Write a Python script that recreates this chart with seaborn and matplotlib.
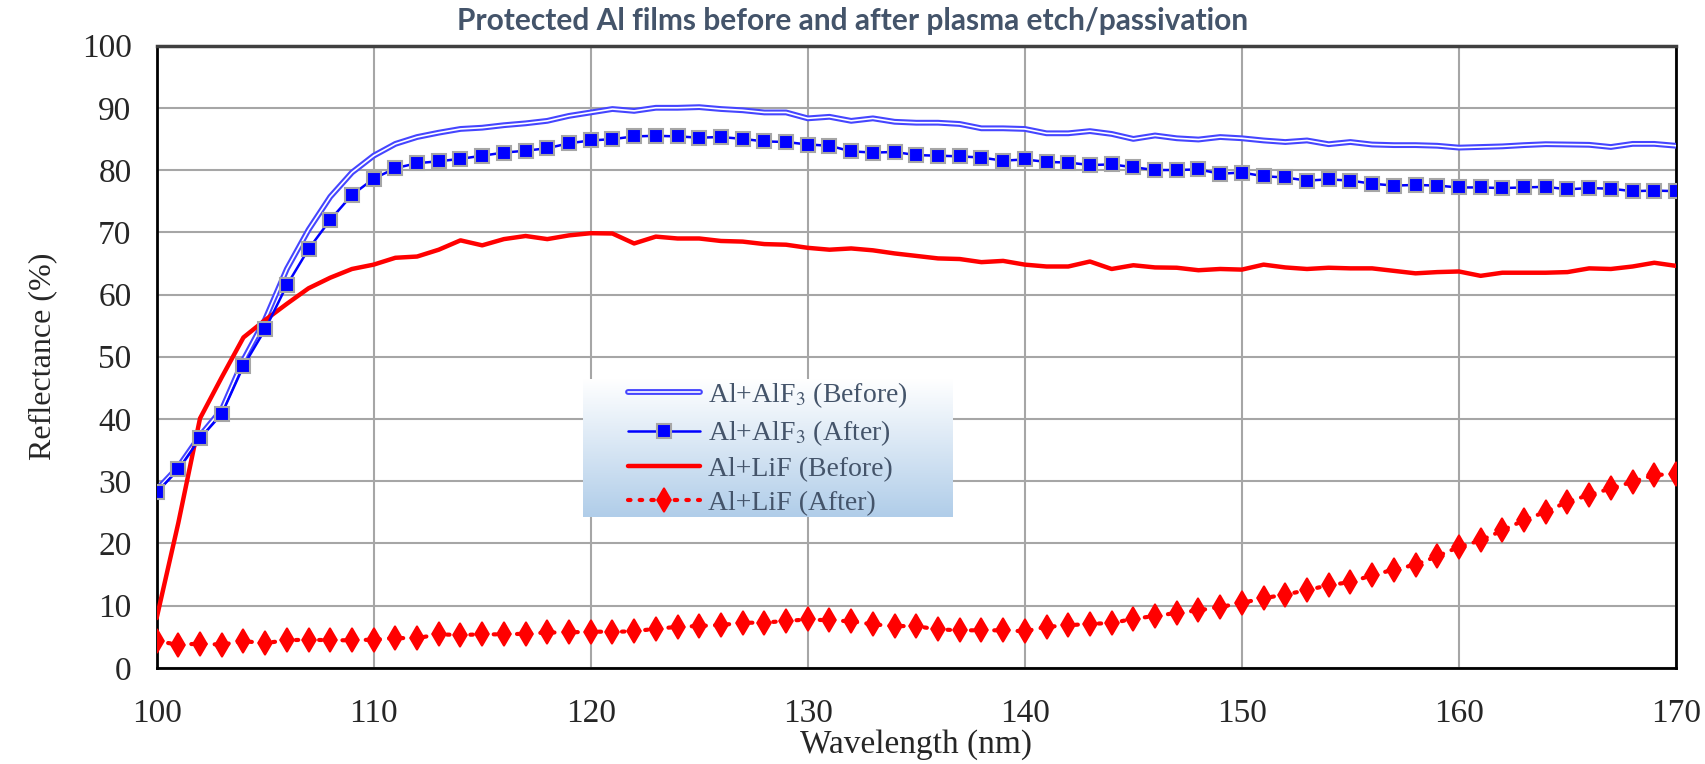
import numpy as np
import matplotlib
matplotlib.use("Agg")
import matplotlib.pyplot as plt
import matplotlib.patheffects as pe
import seaborn as sns

# ================= DATOS =================
wavelength = list(range(100, 171))

alf3_before = [28.6, 32.3, 37.3, 41.5, 49.5, 56.0, 64.1, 70.4, 75.7, 79.6,
               82.3, 84.2, 85.3, 86.0, 86.6, 86.8, 87.2, 87.5, 87.9, 88.7,
               89.25, 89.8, 89.5, 90.0, 90.0, 90.1, 89.8, 89.6, 89.25, 89.25,
               88.3, 88.55, 87.9, 88.3, 87.75, 87.6, 87.6, 87.4, 86.7, 86.7,
               86.6, 85.9, 85.9, 86.25, 85.8, 85.0, 85.55, 85.1, 84.9, 85.3,
               85.1, 84.75, 84.5, 84.75, 84.15, 84.5, 84.1, 84.0, 84.0, 83.9,
               83.6, 83.7, 83.8, 84.0, 84.15, 84.1, 84.05, 83.7, 84.2, 84.2,
               83.9]

alf3_after = [28.2, 31.9, 36.9, 40.8, 48.5, 54.4, 61.5, 67.3, 72.0, 76.0,
              78.6, 80.3, 81.1, 81.4, 81.8, 82.3, 82.8, 83.1, 83.5, 84.3,
              84.75, 84.96, 85.4, 85.5, 85.4, 85.2, 85.3, 85.0, 84.6, 84.5,
              84.1, 83.9, 83.0, 82.8, 82.9, 82.4, 82.3, 82.2, 82.0, 81.5,
              81.7, 81.3, 81.2, 80.8, 80.9, 80.45, 80.0, 80.0, 80.1, 79.4,
              79.6, 79.0, 78.8, 78.3, 78.5, 78.3, 77.8, 77.5, 77.6, 77.5,
              77.2, 77.2, 77.1, 77.2, 77.3, 76.9, 77.1, 77.0, 76.6, 76.7,
              76.6]

lif_before = [8.0, 23.3, 40.1, 46.7, 53.1, 55.9, 58.5, 61.0, 62.7, 64.1,
              64.8, 65.9, 66.1, 67.2, 68.7, 67.9, 68.9, 69.4, 68.9, 69.5,
              69.85, 69.8, 68.2, 69.3, 69.0, 69.0, 68.6, 68.5, 68.1, 68.0,
              67.5, 67.2, 67.4, 67.1, 66.6, 66.2, 65.8, 65.7, 65.2, 65.4,
              64.8, 64.5, 64.5, 65.3, 64.1, 64.7, 64.35, 64.3, 63.9, 64.1,
              64.0, 64.8, 64.35, 64.1, 64.3, 64.2, 64.2, 63.8, 63.4, 63.6,
              63.7, 63.0, 63.5, 63.5, 63.5, 63.6, 64.2, 64.1, 64.5, 65.1,
              64.6]

lif_after = [4.3, 3.75, 3.9, 3.75, 4.3, 4.0, 4.45, 4.55, 4.45, 4.45,
             4.55, 4.8, 4.8, 5.4, 5.3, 5.4, 5.4, 5.5, 5.7, 5.7,
             5.85, 5.8, 5.9, 6.3, 6.6, 6.75, 6.9, 7.25, 7.3, 7.55,
             7.8, 7.65, 7.5, 7.0, 6.75, 6.7, 6.2, 6.05, 6.05, 6.05,
             5.9, 6.6, 6.85, 7.1, 7.2, 7.9, 8.35, 8.85, 9.25, 9.8,
             10.45, 11.2, 11.8, 12.5, 13.3, 13.8, 14.9, 15.8, 16.6, 17.95,
             19.45, 20.5, 22.1, 23.75, 25.1, 26.7, 27.8, 28.85, 29.9, 31.0,
             31.15]

x_ticks = list(range(100, 171, 10))
y_ticks = list(range(0, 101, 10))

# ================= ESTILO =================
sns.set_style("white")
plt.rcParams['font.family'] = ['Liberation Serif', 'DejaVu Serif']
plt.rcParams['mathtext.fontset'] = 'stix'

fig = plt.figure(figsize=(17.06, 7.64), dpi=100)
ax = fig.add_axes([0.0918, 0.1257, 0.8906, 0.8147])

txt_color = '#44546A'

# ================= LÍNEAS =================
sns.lineplot(x=wavelength, y=alf3_before, ax=ax, color='white', linewidth=1.2,
             label='Al+AlF$_3$ (Before)', zorder=3,
             path_effects=[pe.Stroke(linewidth=4.2, foreground='#4545ff'), pe.Normal()])

sns.lineplot(x=wavelength, y=alf3_after, ax=ax, color='#0000ff', linewidth=1.8,
             marker='s', markersize=10, markerfacecolor='#0000ff',
             markeredgecolor='#a6a6a6', markeredgewidth=1.5,
             label='Al+AlF$_3$ (After)', zorder=4)

sns.lineplot(x=wavelength, y=lif_before, ax=ax, color='#ff0000', linewidth=3.2,
             label='Al+LiF (Before)', zorder=3)

sns.lineplot(x=wavelength, y=lif_after, ax=ax, color='#ff0000', linewidth=3,
             marker='d', markersize=12.5, markerfacecolor='#ff0000',
             markeredgecolor='#ff0000', markeredgewidth=1.2,
             label='Al+LiF (After)', zorder=4)
ax.lines[-1].set_linestyle((0, (0.6, 2.2)))
ax.lines[-1].set_dash_capstyle('round')

# ================= EJES =================
ax.set_xlim(100, 170)
ax.set_ylim(0, 100)
ax.set_xticks(x_ticks)
ax.set_yticks(y_ticks)
ax.tick_params(axis='both', length=0, labelsize=24)
ax.tick_params(axis='x', pad=22)
ax.tick_params(axis='y', pad=18)
ax.grid(True, color='#a6a6a6', linewidth=1.5)
ax.set_axisbelow(True)
for side in ['left', 'bottom', 'right']:
    ax.spines[side].set_color('black')
    ax.spines[side].set_linewidth(2)
ax.spines['top'].set_color('#404040')
ax.spines['top'].set_linewidth(2.5)

ax.set_xlabel('Wavelength (nm)', fontsize=24, labelpad=0)
ax.set_ylabel('Reflectance (%)', fontsize=23, labelpad=18)

fig.text(0.5, 0.972, 'Protected Al films before and after plasma etch/passivation',
         ha='center', va='center', fontsize=21.5, fontweight='bold', color=txt_color,
         family=['Lato', 'DejaVu Sans'])

# ================= LEYENDA (fondo degradado) =================
leg_box = [0.2806, 0.2426, 0.2435, 0.2217]
bg = ax.inset_axes(leg_box, zorder=4.5)
grad = np.linspace(0, 1, 256).reshape(-1, 1)
cmap = matplotlib.colors.LinearSegmentedColormap.from_list('g', ['#ffffff', '#b0cde9'])
bg.imshow(grad, aspect='auto', cmap=cmap, extent=[0, 1, 1, 0])
bg.set_axis_off()

leg = ax.legend(loc='center', bbox_to_anchor=(leg_box[0] + leg_box[2] / 2,
                                              leg_box[1] + leg_box[3] / 2),
                frameon=False, fontsize=20, labelspacing=0.3,
                handlelength=2.6, handletextpad=0.3, borderpad=0.2)
leg.set_zorder(6)
for t in leg.get_texts():
    t.set_color(txt_color)

fig.savefig('out.png', dpi=100)
